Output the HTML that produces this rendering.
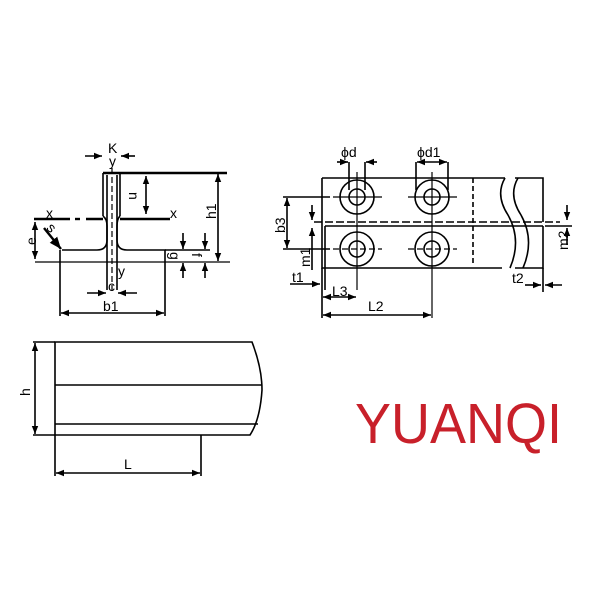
<!DOCTYPE html>
<html><head><meta charset="utf-8"><style>html,body{margin:0;padding:0;background:#fff}svg{display:block}</style></head>
<body>
<svg width="600" height="600" viewBox="0 0 600 600" xmlns="http://www.w3.org/2000/svg" font-family="Liberation Sans, sans-serif">
<defs>
<marker id="a" viewBox="0 0 10 10" refX="10" refY="5" markerWidth="5" markerHeight="5" orient="auto-start-reverse"><path d="M0,1 L10,5 L0,9 z" fill="#000"/></marker>
</defs>
<g stroke="#000" fill="none" stroke-width="1.6">
<line x1="103" y1="173" x2="227" y2="173" stroke-width="2.4"/>
<line x1="103" y1="173" x2="103" y2="216"/>
<line x1="120" y1="173" x2="120" y2="216"/>
<line x1="107" y1="175" x2="107" y2="290"/>
<line x1="117" y1="175" x2="117" y2="290"/>
<line x1="112" y1="168" x2="112" y2="292" stroke-dasharray="6,3" stroke-width="1.2"/>
<path d="M103 216 Q107 219 107 226 L107 240 Q107 250 97 250 L62 250"/>
<path d="M120 216 Q117 219 117 226 L117 240 Q117 250 127 250 L165 250 L165 262"/>
<line x1="34" y1="219" x2="70" y2="219" stroke-width="2.4"/>
<line x1="75" y1="219" x2="80" y2="219" stroke-width="2.4"/>
<line x1="86" y1="219" x2="103" y2="219" stroke-width="2.4"/>
<line x1="120" y1="219" x2="170" y2="219" stroke-width="2.4"/>
<line x1="35" y1="262" x2="230" y2="262" stroke-width="1.2"/>
<line x1="60" y1="250" x2="60" y2="316"/>
<line x1="165" y1="262" x2="165" y2="316"/>
<line x1="61" y1="313" x2="164" y2="313" marker-start="url(#a)" marker-end="url(#a)"/>
<line x1="87" y1="293" x2="106" y2="293" marker-end="url(#a)"/>
<line x1="137" y1="293" x2="118" y2="293" marker-end="url(#a)"/>
<line x1="85" y1="156" x2="102" y2="156" marker-end="url(#a)"/>
<line x1="135" y1="156" x2="121" y2="156" marker-end="url(#a)"/>
<line x1="218" y1="174" x2="218" y2="261" marker-start="url(#a)" marker-end="url(#a)"/>
<line x1="146" y1="176" x2="146" y2="214" marker-start="url(#a)" marker-end="url(#a)"/>
<line x1="35" y1="222" x2="35" y2="259" marker-start="url(#a)" marker-end="url(#a)"/>
<line x1="44" y1="228" x2="61" y2="249" stroke-width="2.4" marker-end="url(#a)"/>
<line x1="165" y1="250" x2="210" y2="250"/>
<line x1="183" y1="233" x2="183" y2="249" marker-end="url(#a)"/>
<line x1="183" y1="278" x2="183" y2="263" marker-end="url(#a)"/>
<line x1="205" y1="233" x2="205" y2="249" marker-end="url(#a)"/>
<line x1="205" y1="278" x2="205" y2="263" marker-end="url(#a)"/>

<path d="M322 178 L505 178"/>
<path d="M515 178 L543 178 L543 222"/>
<path d="M322 178 L322 268 L502 268"/>
<path d="M515 268 L543 268 L543 226"/>
<path d="M505 178 Q495 195 508 215 Q522 240 510 268"/>
<path d="M518 178 Q508 195 521 215 Q535 240 523 268"/>
<line x1="314" y1="222" x2="560" y2="222" stroke-dasharray="8,3"/>
<line x1="325" y1="226" x2="543" y2="226"/>
<line x1="325" y1="226" x2="325" y2="290"/>
<line x1="473" y1="178" x2="473" y2="266" stroke-dasharray="5,3"/>
<g>
<circle cx="357" cy="197" r="17"/><circle cx="357" cy="197" r="8"/>
<circle cx="432" cy="197" r="17"/><circle cx="432" cy="197" r="8"/>
<circle cx="357" cy="249" r="17"/><circle cx="357" cy="249" r="8"/>
<circle cx="432" cy="249" r="17"/><circle cx="432" cy="249" r="8"/>
</g>
<g stroke-width="1.2">
<line x1="333" y1="197" x2="382" y2="197"/><line x1="408" y1="197" x2="457" y2="197"/>
<line x1="333" y1="249" x2="382" y2="249" stroke-dasharray="6,3"/><line x1="408" y1="249" x2="457" y2="249" stroke-dasharray="6,3"/>
<line x1="357" y1="172" x2="357" y2="290"/><line x1="432" y1="172" x2="432" y2="318"/>
</g>
<line x1="349" y1="162" x2="349" y2="190"/><line x1="365" y1="162" x2="365" y2="190"/>
<line x1="337" y1="162" x2="348" y2="162" marker-end="url(#a)"/>
<line x1="377" y1="162" x2="366" y2="162" marker-end="url(#a)"/>
<line x1="416" y1="162" x2="416" y2="190"/><line x1="448" y1="162" x2="448" y2="190"/>
<line x1="417" y1="162" x2="447" y2="162" marker-start="url(#a)" marker-end="url(#a)"/>
<line x1="283" y1="197" x2="330" y2="197"/>
<line x1="283" y1="249" x2="330" y2="249"/>
<line x1="287" y1="198" x2="287" y2="248" marker-start="url(#a)" marker-end="url(#a)"/>
<line x1="312" y1="205" x2="312" y2="220" marker-end="url(#a)"/>
<line x1="312" y1="270" x2="312" y2="228" marker-end="url(#a)"/>
<line x1="290" y1="284" x2="320" y2="284" marker-end="url(#a)"/>
<line x1="323" y1="297" x2="356" y2="297" marker-start="url(#a)" marker-end="url(#a)"/>
<line x1="322" y1="268" x2="322" y2="318"/>
<line x1="323" y1="315" x2="431" y2="315" marker-start="url(#a)" marker-end="url(#a)"/>
<line x1="543" y1="268" x2="543" y2="292"/>
<line x1="525" y1="285" x2="541" y2="285" marker-end="url(#a)"/>
<line x1="562" y1="285" x2="545" y2="285" marker-end="url(#a)"/>
<line x1="567" y1="205" x2="567" y2="220" marker-end="url(#a)"/>
<line x1="567" y1="245" x2="567" y2="228" marker-end="url(#a)"/>
<line x1="545" y1="226" x2="572" y2="226"/>

<path d="M55 342 L252 342 Q262 368 262 390 Q260 420 250 435 L55 435 Z"/>
<line x1="55" y1="385" x2="262" y2="385"/>
<line x1="55" y1="424" x2="258" y2="424"/>
<line x1="33" y1="342" x2="55" y2="342"/>
<line x1="33" y1="435" x2="55" y2="435"/>
<line x1="35" y1="343" x2="35" y2="434" marker-start="url(#a)" marker-end="url(#a)"/>
<path d="M55 435 L55 476 M201 435 L201 476"/>
<line x1="56" y1="473" x2="200" y2="473" marker-start="url(#a)" marker-end="url(#a)"/>
</g>
<g font-size="14" fill="#000">
<text x="108" y="153">K</text><text x="109" y="166">y</text>
<text x="46" y="218">x</text><text x="170" y="218">x</text>
<text x="133" y="202" transform="rotate(90 136 195)">n</text>
<text x="203" y="218" transform="rotate(-90 210 212)">h1</text>
<text x="26" y="245" transform="rotate(-90 31 240)">e</text>
<text x="46" y="232" transform="rotate(45 50 230)">s</text>
<text x="170" y="262" transform="rotate(90 175 257)">g</text>
<text x="193" y="262" transform="rotate(90 197 257)">f</text>
<text x="118" y="276">y</text><text x="108" y="291">c</text>
<text x="103" y="311">b1</text>
<text x="341" y="157">ϕd</text><text x="417" y="157">ϕd1</text>
<text x="270" y="228" transform="rotate(-90 280 223)">b3</text>
<text x="295" y="262" transform="rotate(-90 305 257)">m1</text>
<text x="556" y="248" transform="rotate(-90 563 243)">m2</text>
<text x="292" y="282">t1</text><text x="332" y="296">L3</text>
<text x="368" y="311">L2</text><text x="512" y="283">t2</text>
<text x="18" y="394" transform="rotate(-90 25 389)">h</text>
<text x="124" y="469">L</text>
</g>
<text x="355" y="443" font-size="57" fill="#c8202a" textLength="207" lengthAdjust="spacingAndGlyphs">YUANQI</text>
</svg>
</body></html>
